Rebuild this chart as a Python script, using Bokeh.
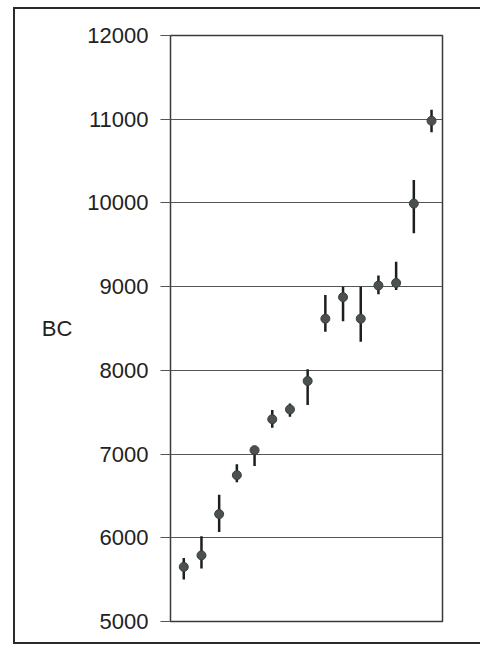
from bokeh.plotting import figure
from bokeh.models import ColumnDataSource, FixedTicker, Range1d
from bokeh.embed import file_html
from bokeh.resources import INLINE

# Data
sample = [1, 2, 3, 4, 5, 6, 7, 8, 9, 10, 11, 12, 13, 14, 15]
bc = [5652, 5790, 6283, 6748, 7047, 7416, 7533, 7873, 8617, 8874, 8617, 9013, 9044, 9992, 10981]
bc_low = [5502, 5633, 6068, 6663, 6858, 7315, 7446, 7587, 8460, 8587, 8343, 8909, 8960, 9639, 10844]
bc_high = [5758, 6019, 6514, 6878, 7090, 7525, 7605, 8012, 8901, 9000, 9000, 9132, 9296, 10275, 11114]
y_ticks = [5000, 6000, 7000, 8000, 9000, 10000, 11000, 12000]

src = ColumnDataSource(dict(x=sample, y=bc, lo=bc_low, hi=bc_high))

W, H = 480, 644
p = figure(width=W, height=H, output_backend="svg", toolbar_location=None,
           x_range=Range1d(0.25, 15.62), y_range=Range1d(5000, 12000),
           min_border_left=170, min_border_right=38, min_border_top=35,
           min_border_bottom=23, background_fill_color="white",
           border_fill_color=None)

# outer scan frame (left, top and bottom edges) painted behind the transparent canvas
line = "linear-gradient(#2a2a2a, #2a2a2a)"
p.stylesheets = [
    ":host { background-color: white; background-image: %s, %s, %s; "
    "background-repeat: no-repeat; "
    "background-position: 13px 7px, 13px 7px, 13px 100%%; "
    "background-size: 2px 100%%, 100%% 2px, 100%% 2px; }" % (line, line, line)
]

p.outline_line_color = "#3a3a3a"
p.outline_line_width = 1.5

p.xaxis.visible = False
p.xgrid.visible = False

p.yaxis.ticker = FixedTicker(ticks=y_ticks)
p.yaxis.axis_line_color = None
p.yaxis.major_tick_out = 10
p.yaxis.major_tick_in = 0
p.yaxis.major_tick_line_color = "#555555"
p.yaxis.minor_tick_line_color = None
p.yaxis.major_label_standoff = 12
p.yaxis.major_label_text_font = "Liberation Sans"
p.yaxis.major_label_text_font_size = "22px"
p.yaxis.major_label_text_color = "#222222"
p.yaxis.axis_label = "BC"
p.yaxis.axis_label_orientation = "horizontal"
p.yaxis.axis_label_standoff = 12
p.yaxis.axis_label_text_font = "Liberation Sans"
p.yaxis.axis_label_text_font_size = "22px"
p.yaxis.axis_label_text_font_style = "normal"
p.yaxis.axis_label_text_color = "#222222"

p.ygrid.grid_line_color = "#555555"
p.ygrid.grid_line_width = 1.2

p.segment(x0="x", y0="lo", x1="x", y1="hi", source=src, line_color="#1e1e1e", line_width=2.5)
p.scatter(x="x", y="y", source=src, size=9, fill_color="#4b514e", line_color="#3a3f3c")

open("out.html", "w").write(file_html(p, INLINE))
